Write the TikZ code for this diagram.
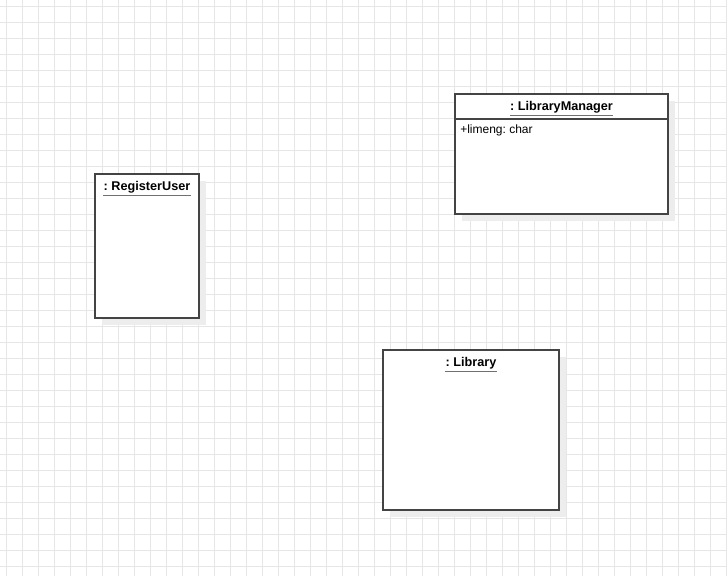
\documentclass[tikz,border=0pt]{standalone}
\usepackage{fontspec}
\setmainfont{Liberation Sans}
\frenchspacing
\definecolor{gridc}{HTML}{E6E6E6}
\definecolor{shadowc}{HTML}{EDEDED}
\definecolor{edgec}{HTML}{444444}
\definecolor{ulc}{HTML}{707070}
\tikzset{
  objbox/.style={draw=edgec, line width=1.05pt, fill=white},
  objshadow/.style={fill=shadowc, draw=none},
  objtitle/.style={font=\frenchspacing\bfseries\fontsize{9.5pt}{11pt}\selectfont, text=black, inner sep=0pt, anchor=center},
  attr/.style={font=\frenchspacing\fontsize{9pt}{11pt}\selectfont, text=black, inner sep=0pt, anchor=west},
  uline/.style={draw=ulc, line width=1pt},
}
\begin{document}
\begin{tikzpicture}[x=0.75pt,y=-0.75pt]
\useasboundingbox (0,0) rectangle (727,576);
\fill[white] (0,0) rectangle (727,576);
% grid
\foreach \i in {0,...,45} {
  \draw[gridc, line width=0.75pt] (6.5+16*\i,0) -- (6.5+16*\i,576);
}
\foreach \j in {0,...,35} {
  \draw[gridc, line width=0.75pt] (0,6.5+16*\j) -- (727,6.5+16*\j);
}
% shadows
\fill[objshadow] (102,181) rectangle (206,325);
\fill[objshadow] (462,101) rectangle (675,221);
\fill[objshadow] (390,357) rectangle (566,517);
% RegisterUser
\draw[objbox] (95,174) rectangle (199,318);
\node[objtitle] (ru) at (147,187) {: RegisterUser};
\draw[uline] ([yshift=-1.6pt]ru.south west) -- ([yshift=-1.6pt]ru.south east);
% LibraryManager
\draw[objbox] (455,94) rectangle (668,214);
\draw[edgec, line width=1.05pt] (455,119) -- (668,119);
\node[objtitle] (lm) at (561.5,107) {: LibraryManager};
\draw[uline] ([yshift=-1.6pt]lm.south west) -- ([yshift=-1.6pt]lm.south east);
\node[attr] (lma) at (460,130) {+limeng: char};
% Library
\draw[objbox] (383,350) rectangle (559,510);
\node[objtitle] (lib) at (471,363) {: Library};
\draw[uline] ([yshift=-1.6pt]lib.south west) -- ([yshift=-1.6pt]lib.south east);
\end{tikzpicture}
\end{document}
